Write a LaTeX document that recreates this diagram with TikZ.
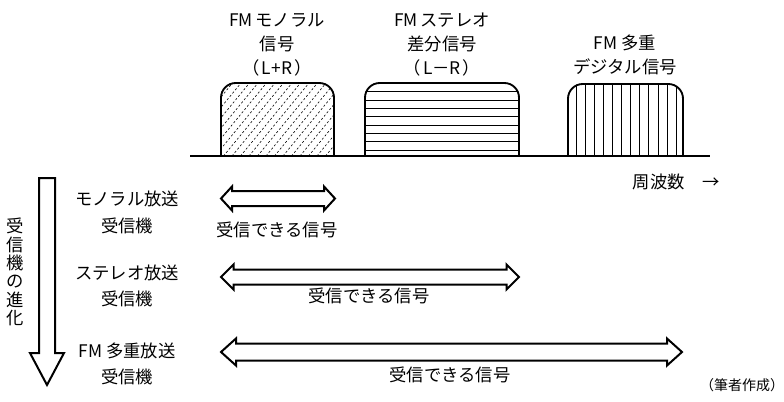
\documentclass[tikz,border=0pt]{standalone}
\usepackage{fontspec}
\setmainfont{Noto Sans CJK JP}
\begin{document}
\begin{tikzpicture}[x=0.75pt,y=-0.75pt,
  lbl/.style={font=\fontsize{13}{18}\selectfont, align=center, inner sep=0pt},
  rcv/.style={font=\fontsize{13}{20}\selectfont, align=center, inner sep=0pt},
  outline/.style={line width=1.4pt, line join=round},
  hatch/.style={line width=0.45pt},
  thick arrow/.style={line width=1.5pt, line join=miter}]
\useasboundingbox (0,0) rectangle (784,401);

% ---------- signal blocks ----------
% block 1: diagonal dashed hatching
\begin{scope}
  \clip (0,0) rectangle (784,156);
  \clip[rounded corners=11pt] (221,175) -- (221,83) -- (334,83) -- (334,175) -- cycle;
  \foreach \x in {130,138.5,...,340}
    \draw[hatch, dash pattern=on 1.6pt off 1.6pt] (\x,156) -- ({\x+60},83);
\end{scope}
\draw[outline, rounded corners=11pt] (221,156) -- (221,83) -- (334,83) -- (334,156);

% block 2: horizontal lines
\begin{scope}
  \clip (0,0) rectangle (784,156);
  \clip[rounded corners=11pt] (365,175) -- (365,83) -- (519,83) -- (519,175) -- cycle;
  \foreach \k in {0,...,7}
    \draw[hatch] (365,{91.7+8.33*\k}) -- (519,{91.7+8.33*\k});
\end{scope}
\draw[outline, rounded corners=11pt] (365,156) -- (365,83) -- (519,83) -- (519,156);

% block 3: vertical lines
\begin{scope}
  \clip (0,0) rectangle (784,156);
  \clip[rounded corners=11pt] (568,175) -- (568,84) -- (683,84) -- (683,175) -- cycle;
  \foreach \k in {0,...,11}
    \draw[hatch] ({576+9.09*\k},84) -- ({576+9.09*\k},156);
\end{scope}
\draw[outline, rounded corners=11pt] (568,156) -- (568,84) -- (683,84) -- (683,156);

% baseline
\coordinate (bl) at (190,156);
\coordinate (br) at (710,156);
\draw[line width=1.6pt] (bl) -- (br);

% ---------- block labels ----------
\node[lbl] (s1) at (277,45) {FM\,モノラル\\信号\\（\hspace{1.5pt}L+R\hspace{1.5pt}）};
\node[lbl] (s2) at (442,45) {FM\,ステレオ\\差分信号\\（\hspace{1.5pt}L－R\hspace{1.5pt}）};
\node[lbl] (s3) at (625,55) {FM 多重\\デジタル信号};
\node[lbl] (freq) at (676,182) {周波数　→};

% ---------- evolution arrow ----------
\draw[thick arrow] (39,178) -- (55,178) -- (55,353) -- (64,353) -- (47,385)
  -- (30,353) -- (39,353) -- cycle;
\node[lbl, font=\fontsize{13}{13.7}\selectfont] (evo) at (15,272) {受\\信\\機\\の\\進\\化};

% ---------- receivers ----------
\node[rcv] (r1) at (127,212.5) {モノラル放送\\受信機};
\node[rcv] (r2) at (127,286) {ステレオ放送\\受信機};
\node[rcv] (r3) at (127,364) {FM 多重放送\\受信機};

% ---------- double arrows ----------
\newcommand{\dblarrow}[6]{% x1 x2 y halfhead halfshaft headlen
  \draw[thick arrow] (#1,#3) -- ({#1+#6},{#3-#4}) -- ({#1+#6},{#3-#5})
    -- ({#2-#6},{#3-#5}) -- ({#2-#6},{#3-#4}) -- (#2,#3)
    -- ({#2-#6},{#3+#4}) -- ({#2-#6},{#3+#5}) -- ({#1+#6},{#3+#5})
    -- ({#1+#6},{#3+#4}) -- cycle;}
\dblarrow{221}{335}{198.5}{12}{7.5}{11}
\dblarrow{221}{519}{277}{12.5}{7.5}{12.5}
\dblarrow{221}{682}{352}{13.5}{8.5}{15}

\node[lbl] (a1) at (277,230) {受信できる信号};
\node[lbl] (a2) at (369,296) {受信できる信号};
\node[lbl] (a3) at (450,375) {受信できる信号};

\node[lbl, font=\fontsize{10.5}{12}\selectfont] (src) at (742,385) {（筆者作成）};
\end{tikzpicture}
\end{document}
